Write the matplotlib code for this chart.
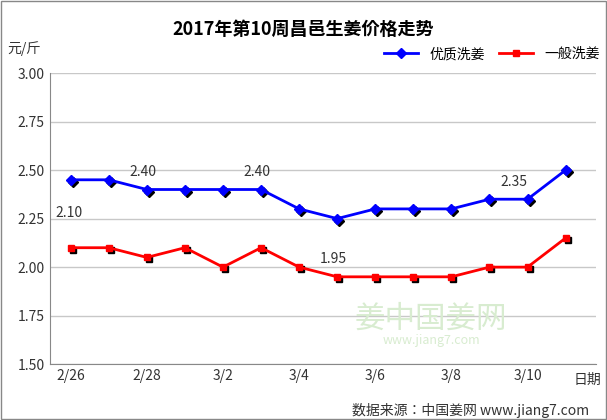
import matplotlib.pyplot as plt
import matplotlib.transforms as mtrans
from matplotlib import font_manager

names = {f.name for f in font_manager.fontManager.ttflist}
cjk = [n for n in ['Noto Sans CJK SC', 'Noto Sans CJK JP', 'Noto Sans CJK TC', 'Noto Sans CJK KR'] if n in names]
plt.rcParams['font.family'] = cjk + ['DejaVu Sans']

dates = ['2/26', '2/27', '2/28', '3/1', '3/2', '3/3', '3/4', '3/5', '3/6', '3/7', '3/8', '3/9', '3/10', '3/11']
premium = [2.45, 2.45, 2.40, 2.40, 2.40, 2.40, 2.30, 2.25, 2.30, 2.30, 2.30, 2.35, 2.35, 2.50]
normal = [2.10, 2.10, 2.05, 2.10, 2.00, 2.10, 2.00, 1.95, 1.95, 1.95, 1.95, 2.00, 2.00, 2.15]
yticks = [1.50, 1.75, 2.00, 2.25, 2.50, 2.75, 3.00]

fig = plt.figure(figsize=(6.07, 4.2), dpi=100)
fig.patches.append(plt.Rectangle((0.002, 0.002), 0.996, 0.996, transform=fig.transFigure,
                                 fill=False, edgecolor='#888888', lw=1))
ax = fig.add_axes([0.082, 0.133, 0.9, 0.693])
x = list(range(len(dates)))

off = ax.transData + mtrans.ScaledTranslation(2/100, -2/100, fig.dpi_scale_trans)
ax.plot(x, premium, color='#0000ff', lw=2, marker='D', ms=5, label='优质洗姜', zorder=3)
ax.plot(x, normal, color='#ff0000', lw=2, marker='s', ms=5, label='一般洗姜', zorder=3)
ax.plot(x, premium, ls='none', marker='D', ms=5, color='black', zorder=2, transform=off)
ax.plot(x, normal, ls='none', marker='s', ms=5, color='black', zorder=2, transform=off)

for i, s, dy, dx in [(0, normal, 0.18, -0.4), (2, premium, 0.09, -0.45), (5, premium, 0.09, -0.45),
                     (7, normal, 0.09, -0.45), (12, premium, 0.09, -0.7)]:
    ax.text(i + dx, s[i] + dy, f'{s[i]:.2f}', fontsize=10, color='#333333', va='center')

ax.set_xticks(x[::2])
ax.set_xticklabels(dates[::2], fontsize=10, color='#333333')
ax.set_ylim(1.5, 3.0)
ax.set_yticks(yticks)
ax.set_yticklabels([f'{v:.2f}' for v in yticks], fontsize=10, color='#333333')
ax.tick_params(length=0)
ax.grid(axis='y', color='#c8c8c8', lw=1)
for s in ['top', 'right']:
    ax.spines[s].set_visible(False)
ax.spines['left'].set_color('#888888')
ax.spines['bottom'].set_color('#888888')
ax.set_xlim(-0.55, 13.8)

fig.text(0.5, 0.93, '2017年第10周昌邑生姜价格走势', ha='center', va='center', fontsize=13, fontweight='bold')
fig.text(0.012, 0.875, '元/斤', fontsize=10, color='#333333')
fig.text(0.945, 0.085, '日期', fontsize=10, color='#333333')
fig.text(0.97, 0.012, '数据来源：中国姜网 www.jiang7.com', ha='right', fontsize=10, color='#333333')
fig.text(0.71, 0.22, '姜中国姜网', fontsize=22, color='#d8ecd0', ha='center', zorder=0)
fig.text(0.71, 0.18, 'www.jiang7.com', fontsize=9, color='#d8ecd0', ha='center', zorder=0)
ax.legend(loc='center right', bbox_to_anchor=(1.02, 1.065), ncol=2, frameon=False, fontsize=10,
          handlelength=2.5, columnspacing=1, borderpad=0)

fig.savefig('out.png', dpi=100)
